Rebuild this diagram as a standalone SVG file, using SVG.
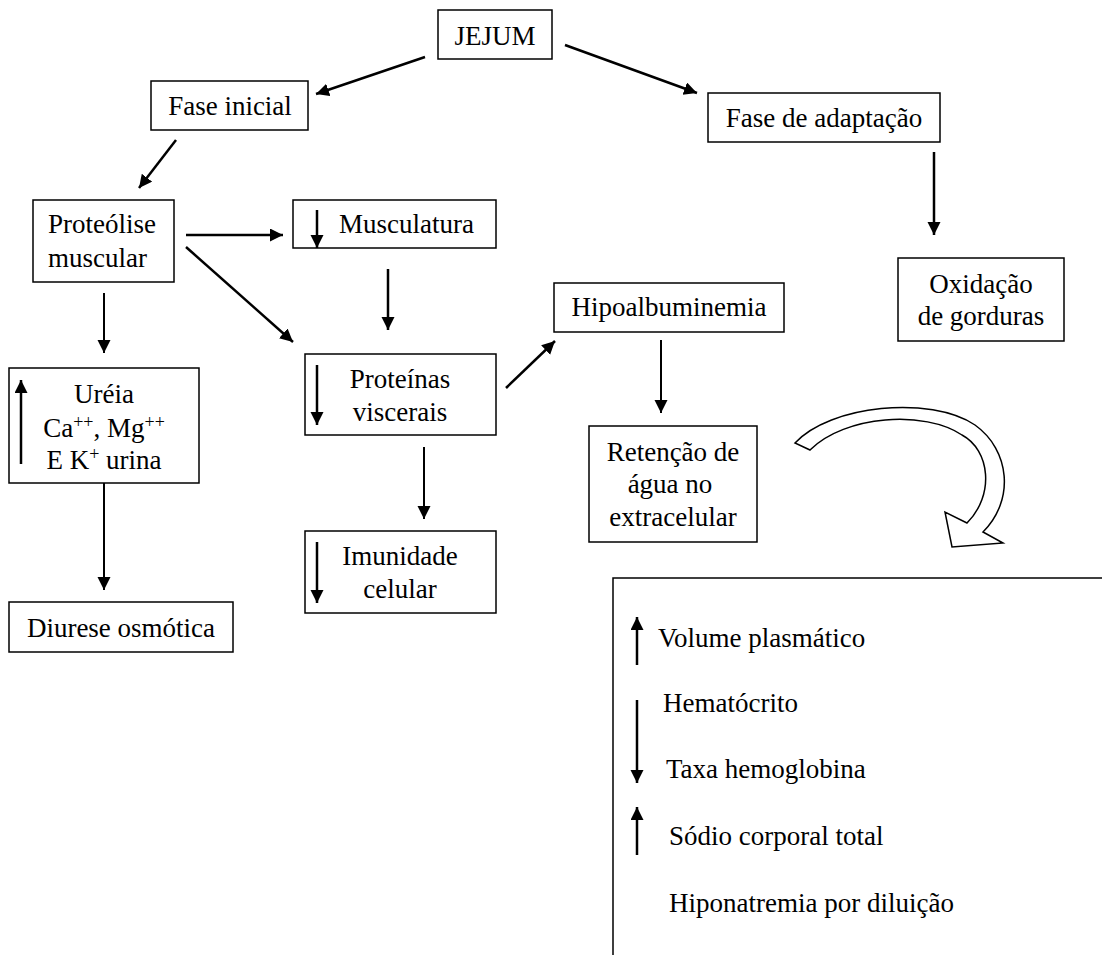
<svg xmlns="http://www.w3.org/2000/svg" width="1102" height="955" viewBox="0 0 1102 955">
<style>
text{font-family:"Liberation Serif","Times New Roman",serif;font-size:27px;fill:#000}
.c{text-anchor:middle}
.box{fill:#fff;stroke:#000;stroke-width:1.5}
.ln{stroke:#000;stroke-width:2.5;fill:none}
.thin{stroke:#000;stroke-width:2;fill:none}
.sup{font-size:18px}
</style>
<defs>
<marker id="ah" markerUnits="userSpaceOnUse" markerWidth="14" markerHeight="14" refX="13" refY="6.5" orient="auto">
<path d="M0,0 L13,6.5 L0,13 z" fill="#000"/>
</marker>
</defs>
<rect width="1102" height="955" fill="#fff"/>

<g id="connectors">
<line class="ln" x1="425" y1="57" x2="316" y2="94" marker-end="url(#ah)"/>
<line class="ln" x1="565" y1="45" x2="697" y2="93" marker-end="url(#ah)"/>
<line class="ln" x1="176" y1="140" x2="139" y2="188" marker-end="url(#ah)"/>
<line class="ln" x1="934" y1="152" x2="934" y2="235" marker-end="url(#ah)"/>
<line class="ln" x1="186" y1="235" x2="283" y2="235" marker-end="url(#ah)"/>
<line class="ln" x1="186" y1="247" x2="293" y2="342" marker-end="url(#ah)"/>
<line class="ln" x1="388" y1="269" x2="388" y2="330" marker-end="url(#ah)"/>
<line class="thin" x1="104" y1="293" x2="104" y2="353" marker-end="url(#ah)"/>
<line class="thin" x1="104" y1="483" x2="104" y2="590" marker-end="url(#ah)"/>
<line class="thin" x1="424" y1="447" x2="424" y2="519" marker-end="url(#ah)"/>
<line class="ln" x1="506" y1="388" x2="555" y2="341" marker-end="url(#ah)"/>
<line class="thin" x1="661" y1="340" x2="661" y2="413" marker-end="url(#ah)"/>
<path id="curved-arrow" d="M795,443 C830,405 930,395 975,425 C1010,450 1015,500 983,532 L1003,543 L952,547 L945,512 L967,523 C995,495 990,450 962,435 C925,410 845,415 810,450 Z" fill="#fff" stroke="#000" stroke-width="1.5" stroke-linejoin="miter"/>
</g>

<g id="jejum">
<rect class="box" x="438" y="10" width="114" height="49"/>
<text class="c" x="495" y="45">JEJUM</text>
</g>

<g id="fase-inicial">
<rect class="box" x="151" y="81" width="157" height="49"/>
<text class="c" x="230" y="115">Fase inicial</text>
</g>

<g id="fase-adaptacao">
<rect class="box" x="708" y="93" width="232" height="49"/>
<text class="c" x="824" y="127">Fase de adaptação</text>
</g>

<g id="oxidacao">
<rect class="box" x="898" y="258" width="166" height="83"/>
<text class="c" x="981" y="293">Oxidação</text>
<text class="c" x="981" y="325">de gorduras</text>
</g>

<g id="proteolise">
<rect class="box" x="33" y="200" width="141" height="82"/>
<text x="48" y="233">Proteólise</text>
<text x="48" y="267">muscular</text>
</g>

<g id="musculatura">
<rect class="box" x="293" y="200" width="203" height="48"/>
<line class="ln" x1="317" y1="210" x2="317" y2="248" marker-end="url(#ah)"/>
<text x="339" y="233">Musculatura</text>
</g>

<g id="ureia">
<rect class="box" x="9" y="368" width="190" height="115"/>
<line class="ln" x1="21" y1="464" x2="21" y2="380" marker-end="url(#ah)"/>
<text class="c" x="104" y="403">Uréia</text>
<text class="c" x="104" y="437">Ca<tspan class="sup" dy="-9">++</tspan><tspan dy="9">, Mg</tspan><tspan class="sup" dy="-9">++</tspan></text>
<text class="c" x="104" y="469">E K<tspan class="sup" dy="-9">+</tspan><tspan dy="9"> urina</tspan></text>
</g>

<g id="diurese">
<rect class="box" x="9" y="602" width="224" height="50"/>
<text class="c" x="121" y="637">Diurese osmótica</text>
</g>

<g id="proteinas">
<rect class="box" x="305" y="354" width="191" height="81"/>
<line class="ln" x1="317" y1="365" x2="317" y2="425" marker-end="url(#ah)"/>
<text class="c" x="400" y="388">Proteínas</text>
<text class="c" x="400" y="421">viscerais</text>
</g>

<g id="imunidade">
<rect class="box" x="305" y="531" width="191" height="82"/>
<line class="ln" x1="317" y1="542" x2="317" y2="603" marker-end="url(#ah)"/>
<text class="c" x="400" y="565">Imunidade</text>
<text class="c" x="400" y="598">celular</text>
</g>

<g id="hipoalbuminemia">
<rect class="box" x="554" y="283" width="230" height="49"/>
<text class="c" x="669" y="316">Hipoalbuminemia</text>
</g>

<g id="retencao">
<rect class="box" x="589" y="426" width="168" height="116"/>
<text class="c" x="673" y="461">Retenção de</text>
<text class="c" x="670" y="493">água no</text>
<text class="c" x="673" y="526">extracelular</text>
</g>

<g id="legenda">
<path d="M1102,578 H613 V955" fill="none" stroke="#000" stroke-width="1.5"/>
<line class="ln" x1="637" y1="665" x2="637" y2="617" marker-end="url(#ah)"/>
<text x="658" y="647">Volume plasmático</text>
<text x="663" y="712">Hematócrito</text>
<line class="ln" x1="637" y1="700" x2="637" y2="783" marker-end="url(#ah)"/>
<text x="666" y="778">Taxa hemoglobina</text>
<line class="ln" x1="637" y1="855" x2="637" y2="807" marker-end="url(#ah)"/>
<text x="669" y="845">Sódio corporal total</text>
<text x="669" y="912">Hiponatremia por diluição</text>
</g>
</svg>
